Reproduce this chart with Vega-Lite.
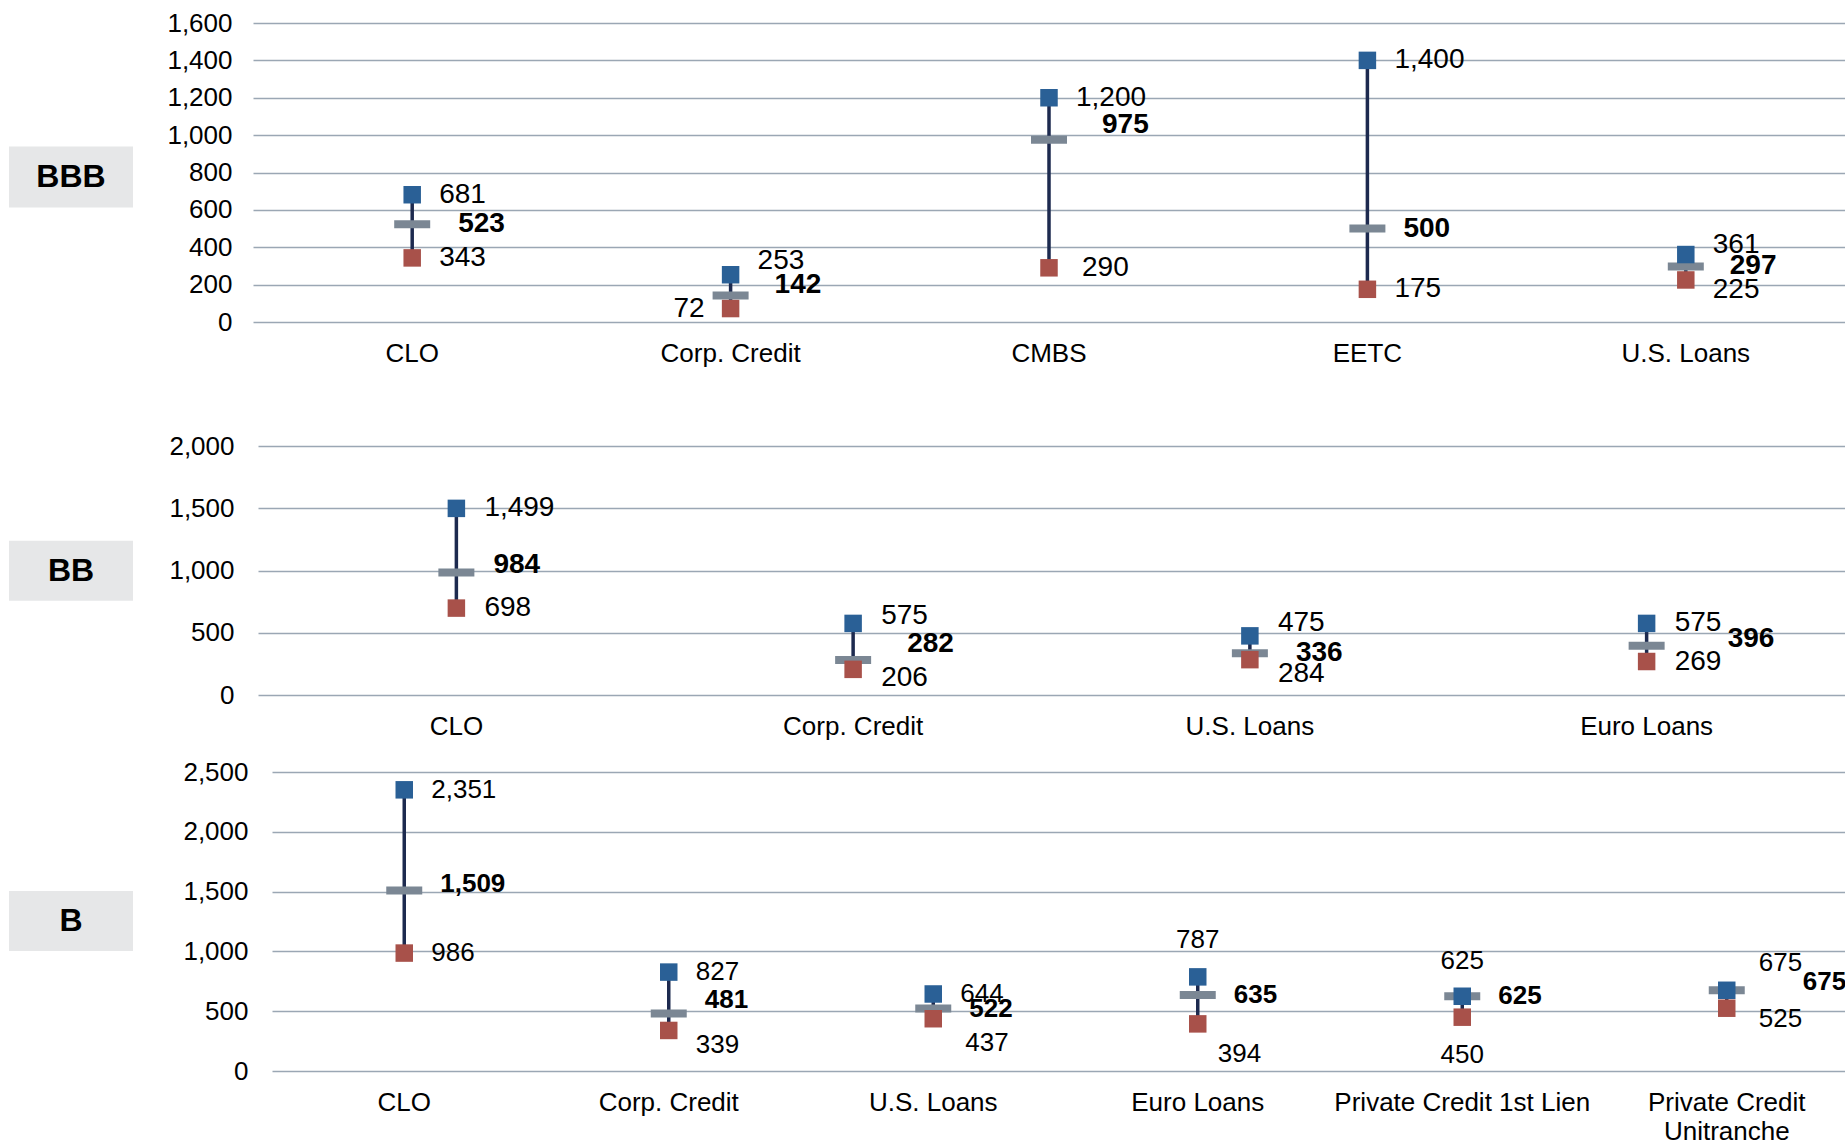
{
  "$schema": "https://vega.github.io/schema/vega-lite/v6.json",
  "padding": {"left": 9, "top": 10, "right": 0, "bottom": 0},
  "background": "white",
  "config": {
    "font": "Liberation Sans",
    "view": {"stroke": null},
    "axis": {"labelFont": "Liberation Sans", "labelColor": "#000000", "domain": false, "ticks": false, "tickSize": 0, "gridColor": "#9ba7b4", "gridWidth": 1.3, "labelFontSize": 26}
  },
  "spacing": 67,
  "vconcat": [
    {
      "bounds": "flush",
      "spacing": 120,
      "hconcat": [
        {
          "width": 124, "height": 299,
          "data": {"values": [{"label": "BBB"}]},
          "layer": [
            {"mark": {"type": "rect", "color": "#e6e7e8"},
             "encoding": {
               "x": {"datum": 0, "type": "quantitative", "scale": {"domain": [0, 1], "nice": false, "zero": false}, "axis": null},
               "x2": {"datum": 1},
               "y": {"datum": 0.383, "type": "quantitative", "scale": {"domain": [0, 1], "nice": false, "zero": false}, "axis": null},
               "y2": {"datum": 0.587}}},
            {"mark": {"type": "text", "fontSize": 32, "fontWeight": "bold", "color": "#000000", "baseline": "middle", "align": "center"},
             "encoding": {
               "x": {"datum": 0.5, "type": "quantitative"},
               "y": {"datum": 0.485, "type": "quantitative"},
               "text": {"field": "label", "type": "nominal"}}}
          ]
        },
        {
          "width": 1592, "height": 299,
          "data": {"values": [
            {"cat": "CLO", "high": 681, "mid": 523, "low": 343},
            {"cat": "Corp. Credit", "high": 253, "mid": 142, "low": 72},
            {"cat": "CMBS", "high": 1200, "mid": 975, "low": 290},
            {"cat": "EETC", "high": 1400, "mid": 500, "low": 175},
            {"cat": "U.S. Loans", "high": 361, "mid": 297, "low": 225}
          ]},
          "encoding": {
            "x": {"field": "cat", "type": "nominal", "sort": null, "title": null,
                  "scale": {"paddingInner": 0, "paddingOuter": 0},
                  "axis": {"labelAngle": 0, "labelPadding": 18, "labelLimit": 400, "labelOverlap": false, "grid": false}}
          },
          "layer": [
            {"mark": {"type": "rule", "color": "#1d2a4f", "strokeWidth": 3.5},
             "encoding": {
               "y": {"field": "low", "type": "quantitative", "title": null,
                     "scale": {"domain": [0, 1600], "nice": false},
                     "axis": {"values": [0, 200, 400, 600, 800, 1000, 1200, 1400, 1600], "format": ",.0f", "labelPadding": 21, "grid": true, "labelOverlap": false}},
               "y2": {"field": "high"}}},
            {"mark": {"type": "tick", "color": "#7b8794", "size": 36, "thickness": 8, "opacity": 1},
             "encoding": {"y": {"field": "mid", "type": "quantitative", "title": null,
                     "axis": {"values": [0, 200, 400, 600, 800, 1000, 1200, 1400, 1600], "format": ",.0f", "labelPadding": 21, "grid": true, "labelOverlap": false}}}},
            {"mark": {"type": "square", "color": "#a8514a", "size": 306, "opacity": 1, "filled": true},
             "encoding": {"y": {"field": "low", "type": "quantitative", "title": null,
                     "axis": {"values": [0, 200, 400, 600, 800, 1000, 1200, 1400, 1600], "format": ",.0f", "labelPadding": 21, "grid": true, "labelOverlap": false}}}},
            {"mark": {"type": "square", "color": "#2a6096", "size": 306, "opacity": 1, "filled": true},
             "encoding": {"y": {"field": "high", "type": "quantitative", "title": null,
                     "axis": {"values": [0, 200, 400, 600, 800, 1000, 1200, 1400, 1600], "format": ",.0f", "labelPadding": 21, "grid": true, "labelOverlap": false}}}},
            {"transform": [{"fold": ["high", "mid", "low"], "as": ["series", "val"]}],
             "mark": {"type": "text", "fontSize": 28, "baseline": "middle", "color": "#000000",
                      "align": {"expr": "datum.series=='low' && datum.cat=='Corp. Credit' ? 'right' : 'left'"},
                      "fontWeight": {"expr": "datum.series=='mid' ? 'bold' : 'normal'"},
                      "dx": {"expr": "datum.series=='mid' ? (datum.cat=='CMBS' ? 53 : datum.cat=='EETC' ? 36 : datum.cat=='CLO' ? 46 : 44) : (datum.series=='low' && datum.cat=='Corp. Credit') ? -26 : (datum.series=='low' && datum.cat=='CMBS') ? 33 : 27"},
                      "dy": {"expr": "datum.cat=='Corp. Credit' ? (datum.series=='high' ? -14 : datum.series=='mid' ? -10 : 0) : datum.cat=='CMBS' ? (datum.series=='mid' ? -15 : 0) : datum.cat=='U.S. Loans' ? (datum.series=='high' ? -10 : datum.series=='low' ? 10 : 0) : 0"}},
             "encoding": {
               "y": {"field": "val", "type": "quantitative", "title": null,
                     "axis": {"values": [0, 200, 400, 600, 800, 1000, 1200, 1400, 1600], "format": ",.0f", "labelPadding": 21, "grid": true, "labelOverlap": false}},
               "text": {"field": "val", "type": "quantitative", "format": ","}}}
          ]
        }
      ]
    },
    {
      "spacing": 20,
      "vconcat": [
        {
          "bounds": "flush",
          "spacing": 125,
          "hconcat": [
            {
              "width": 124, "height": 249,
              "data": {"values": [{"label": "BB"}]},
              "layer": [
                {"mark": {"type": "rect", "color": "#e6e7e8"},
                 "encoding": {
                   "x": {"datum": 0, "type": "quantitative", "scale": {"domain": [0, 1], "nice": false, "zero": false}, "axis": null},
                   "x2": {"datum": 1},
                   "y": {"datum": 0.3785, "type": "quantitative", "scale": {"domain": [0, 1], "nice": false, "zero": false}, "axis": null},
                   "y2": {"datum": 0.619}}},
                {"mark": {"type": "text", "fontSize": 32, "fontWeight": "bold", "color": "#000000", "baseline": "middle", "align": "center"},
                 "encoding": {
                   "x": {"datum": 0.5, "type": "quantitative"},
                   "y": {"datum": 0.499, "type": "quantitative"},
                   "text": {"field": "label", "type": "nominal"}}}
              ]
            },
            {
              "width": 1587, "height": 249,
              "data": {"values": [
                {"cat": "CLO", "high": 1499, "mid": 984, "low": 698},
                {"cat": "Corp. Credit", "high": 575, "mid": 282, "low": 206},
                {"cat": "U.S. Loans", "high": 475, "mid": 336, "low": 284},
                {"cat": "Euro Loans", "high": 575, "mid": 396, "low": 269}
              ]},
              "encoding": {
                "x": {"field": "cat", "type": "nominal", "sort": null, "title": null,
                      "scale": {"paddingInner": 0, "paddingOuter": 0},
                      "axis": {"labelAngle": 0, "labelPadding": 18, "labelLimit": 400, "labelOverlap": false, "grid": false}}
              },
              "layer": [
                {"mark": {"type": "rule", "color": "#1d2a4f", "strokeWidth": 3.5},
                 "encoding": {
                   "y": {"field": "low", "type": "quantitative", "title": null,
                         "scale": {"domain": [0, 2000], "nice": false},
                         "axis": {"values": [0, 500, 1000, 1500, 2000], "format": ",.0f", "labelPadding": 24, "grid": true, "labelOverlap": false}},
                   "y2": {"field": "high"}}},
                {"mark": {"type": "tick", "color": "#7b8794", "size": 36, "thickness": 8, "opacity": 1},
                 "encoding": {"y": {"field": "mid", "type": "quantitative", "title": null,
                         "axis": {"values": [0, 500, 1000, 1500, 2000], "format": ",.0f", "labelPadding": 24, "grid": true, "labelOverlap": false}}}},
                {"mark": {"type": "square", "color": "#a8514a", "size": 306, "opacity": 1, "filled": true},
                 "encoding": {"y": {"field": "low", "type": "quantitative", "title": null,
                         "axis": {"values": [0, 500, 1000, 1500, 2000], "format": ",.0f", "labelPadding": 24, "grid": true, "labelOverlap": false}}}},
                {"mark": {"type": "square", "color": "#2a6096", "size": 306, "opacity": 1, "filled": true},
                 "encoding": {"y": {"field": "high", "type": "quantitative", "title": null,
                         "axis": {"values": [0, 500, 1000, 1500, 2000], "format": ",.0f", "labelPadding": 24, "grid": true, "labelOverlap": false}}}},
                {"transform": [{"fold": ["high", "mid", "low"], "as": ["series", "val"]}],
                 "mark": {"type": "text", "fontSize": 28, "baseline": "middle", "align": "left", "color": "#000000",
                          "fontWeight": {"expr": "datum.series=='mid' ? 'bold' : 'normal'"},
                          "dx": {"expr": "datum.series=='mid' ? (datum.cat=='CLO' ? 37 : datum.cat=='Corp. Credit' ? 54 : datum.cat=='U.S. Loans' ? 46 : 81) : 28"},
                          "dy": {"expr": "datum.cat=='CLO' ? (datum.series=='mid' ? -7 : 0) : datum.cat=='Corp. Credit' ? (datum.series=='high' ? -7 : datum.series=='mid' ? -16 : 9) : datum.cat=='U.S. Loans' ? (datum.series=='high' ? -13 : datum.series=='mid' ? 0 : 14) : (datum.series=='mid' ? -7 : 0)"}},
                 "encoding": {
                   "y": {"field": "val", "type": "quantitative", "title": null,
                         "axis": {"values": [0, 500, 1000, 1500, 2000], "format": ",.0f", "labelPadding": 24, "grid": true, "labelOverlap": false}},
                   "text": {"field": "val", "type": "quantitative", "format": ","}}}
              ]
            }
          ]
        },
        {
          "bounds": "flush",
          "spacing": 139,
          "hconcat": [
            {
              "width": 124, "height": 299,
              "data": {"values": [{"label": "B"}]},
              "layer": [
                {"mark": {"type": "rect", "color": "#e6e7e8"},
                 "encoding": {
                   "x": {"datum": 0, "type": "quantitative", "scale": {"domain": [0, 1], "nice": false, "zero": false}, "axis": null},
                   "x2": {"datum": 1},
                   "y": {"datum": 0.401, "type": "quantitative", "scale": {"domain": [0, 1], "nice": false, "zero": false}, "axis": null},
                   "y2": {"datum": 0.602}}},
                {"mark": {"type": "text", "fontSize": 32, "fontWeight": "bold", "color": "#000000", "baseline": "middle", "align": "center"},
                 "encoding": {
                   "x": {"datum": 0.5, "type": "quantitative"},
                   "y": {"datum": 0.5015, "type": "quantitative"},
                   "text": {"field": "label", "type": "nominal"}}}
              ]
            },
            {
              "width": 1587, "height": 299,
              "data": {"values": [
                {"cat": "CLO", "high": 2351, "mid": 1509, "low": 986},
                {"cat": "Corp. Credit", "high": 827, "mid": 481, "low": 339},
                {"cat": "U.S. Loans", "high": 644, "mid": 522, "low": 437},
                {"cat": "Euro Loans", "high": 787, "mid": 635, "low": 394},
                {"cat": "Private Credit 1st Lien", "high": 625, "mid": 625, "low": 450},
                {"cat": "Private Credit Unitranche", "high": 675, "mid": 675, "low": 525}
              ]},
              "encoding": {
                "x": {"field": "cat", "type": "nominal", "sort": null, "title": null,
                      "scale": {"paddingInner": 0, "paddingOuter": 0},
                      "axis": {"labelAngle": 0, "labelPadding": 18, "labelLimit": 400, "labelOverlap": false, "grid": false, "labelLineHeight": 29,
                               "labelExpr": "datum.value == 'Private Credit Unitranche' ? ['Private Credit', 'Unitranche'] : datum.value"}}
              },
              "layer": [
                {"mark": {"type": "rule", "color": "#1d2a4f", "strokeWidth": 3.5},
                 "encoding": {
                   "y": {"field": "low", "type": "quantitative", "title": null,
                         "scale": {"domain": [0, 2500], "nice": false},
                         "axis": {"values": [0, 500, 1000, 1500, 2000, 2500], "format": ",.0f", "labelPadding": 24, "grid": true, "labelOverlap": false}},
                   "y2": {"field": "high"}}},
                {"mark": {"type": "tick", "color": "#7b8794", "size": 36, "thickness": 8, "opacity": 1},
                 "encoding": {"y": {"field": "mid", "type": "quantitative", "title": null,
                         "axis": {"values": [0, 500, 1000, 1500, 2000, 2500], "format": ",.0f", "labelPadding": 24, "grid": true, "labelOverlap": false}}}},
                {"mark": {"type": "square", "color": "#a8514a", "size": 306, "opacity": 1, "filled": true},
                 "encoding": {"y": {"field": "low", "type": "quantitative", "title": null,
                         "axis": {"values": [0, 500, 1000, 1500, 2000, 2500], "format": ",.0f", "labelPadding": 24, "grid": true, "labelOverlap": false}}}},
                {"mark": {"type": "square", "color": "#2a6096", "size": 306, "opacity": 1, "filled": true},
                 "encoding": {"y": {"field": "high", "type": "quantitative", "title": null,
                         "axis": {"values": [0, 500, 1000, 1500, 2000, 2500], "format": ",.0f", "labelPadding": 24, "grid": true, "labelOverlap": false}}}},
                {"transform": [{"fold": ["high", "mid", "low"], "as": ["series", "val"]}],
                 "mark": {"type": "text", "fontSize": 26, "baseline": "middle", "color": "#000000",
                          "fontWeight": {"expr": "datum.series=='mid' ? 'bold' : 'normal'"},
                          "align": {"expr": "(datum.cat=='Private Credit 1st Lien' && datum.series!='mid') || (datum.cat=='Euro Loans' && datum.series=='high') ? 'center' : 'left'"},
                          "dx": {"expr": "datum.series=='mid' ? (datum.cat=='Private Credit Unitranche' ? 76 : 36) : (datum.cat=='Private Credit 1st Lien' || (datum.cat=='Euro Loans' && datum.series=='high')) ? 0 : datum.cat=='Euro Loans' ? 20 : (datum.cat=='Private Credit Unitranche' || (datum.cat=='U.S. Loans' && datum.series=='low')) ? 32 : 27"},
                          "dy": {"expr": "datum.cat=='CLO' ? (datum.series=='mid' ? -7 : 0) : datum.cat=='Corp. Credit' ? (datum.series=='mid' ? -13 : datum.series=='low' ? 15 : 0) : datum.cat=='U.S. Loans' ? (datum.series=='low' ? 24 : 0) : datum.cat=='Euro Loans' ? (datum.series=='high' ? -37 : datum.series=='low' ? 30 : 0) : datum.cat=='Private Credit 1st Lien' ? (datum.series=='high' ? -35 : datum.series=='low' ? 38 : 0) : (datum.series=='high' ? -27 : datum.series=='mid' ? -8 : 11)"}},
                 "encoding": {
                   "y": {"field": "val", "type": "quantitative", "title": null,
                         "axis": {"values": [0, 500, 1000, 1500, 2000, 2500], "format": ",.0f", "labelPadding": 24, "grid": true, "labelOverlap": false}},
                   "text": {"field": "val", "type": "quantitative", "format": ","}}}
              ]
            }
          ]
        }
      ]
    }
  ]
}
